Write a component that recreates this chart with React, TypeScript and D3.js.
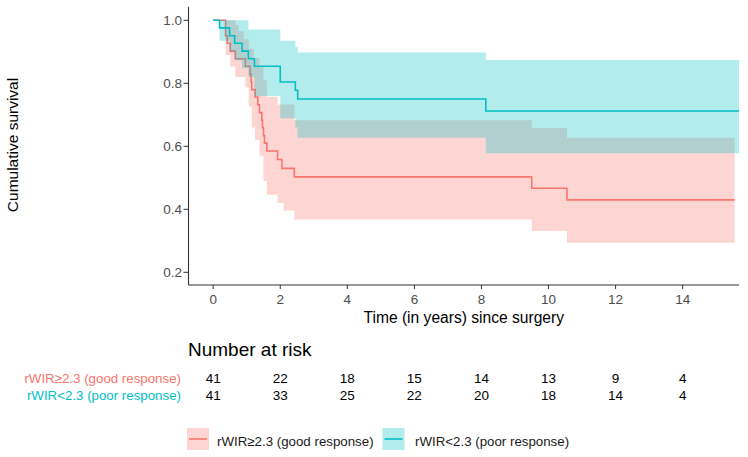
import React from "react";
import * as d3 from "d3";

// ---- data ----
const groupNames = ["rWIR\u22652.3 (good response)", "rWIR<2.3 (poor response)"];
const groupColors = ["#F8766D", "#00BFC4"];

// good response (red)
const goodTime = [0, 0.37, 0.42, 0.51, 0.66, 0.76, 0.91, 0.96, 1.06, 1.10, 1.13, 1.15, 1.21, 1.25, 1.33, 1.38, 1.45, 1.47, 1.50, 1.53, 1.60, 1.92, 2.05, 2.10, 2.42, 9.50, 10.55, 15.55];
const goodSurv = [1.0, 0.951, 0.927, 0.902, 0.878, 0.878, 0.878, 0.854, 0.854, 0.829, 0.805, 0.780, 0.780, 0.756, 0.732, 0.707, 0.683, 0.659, 0.634, 0.610, 0.585, 0.558, 0.530, 0.530, 0.503, 0.467, 0.430, 0.430];
const goodUpper = [1.0, 1.0, 1.0, 1.0, 0.985, 0.965, 0.94, 0.94, 0.91, 0.91, 0.91, 0.91, 0.88, 0.88, 0.88, 0.85, 0.85, 0.85, 0.81, 0.81, 0.757, 0.733, 0.733, 0.733, 0.683, 0.658, 0.627, 0.627];
const goodLower = [1.0, 0.89, 0.89, 0.853, 0.82, 0.82, 0.82, 0.787, 0.726, 0.726, 0.726, 0.66, 0.66, 0.62, 0.62, 0.57, 0.57, 0.57, 0.49, 0.49, 0.446, 0.42, 0.42, 0.396, 0.368, 0.331, 0.294, 0.294];

// poor response (teal)
const poorTime = [0, 0.19, 0.49, 0.64, 0.86, 1.05, 1.23, 2.0, 2.45, 2.52, 8.13, 15.8];
const poorSurv = [1.0, 0.976, 0.951, 0.927, 0.902, 0.878, 0.854, 0.804, 0.778, 0.750, 0.712, 0.712];
const poorUpper = [1.0, 1.0, 1.0, 1.0, 1.0, 0.971, 0.971, 0.935, 0.915, 0.898, 0.874, 0.874];
const poorLower = [1.0, 0.935, 0.90, 0.873, 0.848, 0.82, 0.76, 0.689, 0.66, 0.627, 0.578, 0.578];

const xTicks = [0, 2, 4, 6, 8, 10, 12, 14];
const yTicks = [0.2, 0.4, 0.6, 0.8, 1.0];
const riskGood = [41, 22, 18, 15, 14, 13, 9, 4];
const riskPoor = [41, 33, 25, 22, 20, 18, 14, 4];

type Pt = { t: number; s: number; lo: number; hi: number };
const mk = (t: number[], s: number[], lo: number[], hi: number[]): Pt[] =>
  t.map((tt, i) => ({ t: tt, s: s[i], lo: lo[i], hi: hi[i] }));

export default function App() {
  const W = 748, H = 457;
  const left = 188.5, right = 739, top = 6.7, bottom = 285;
  const x = d3.scaleLinear().domain([-0.736, 15.68]).range([left, right]);
  const y = d3.scaleLinear().domain([0.2, 1.0]).range([272.3, 20.3]);

  const groups = [
    mk(goodTime, goodSurv, goodLower, goodUpper),
    mk(poorTime, poorSurv, poorLower, poorUpper),
  ];

  const area = d3
    .area<Pt>()
    .x((d) => x(d.t))
    .y0((d) => y(d.lo))
    .y1((d) => y(d.hi))
    .curve(d3.curveStepAfter);
  const line = d3
    .line<Pt>()
    .x((d) => x(d.t))
    .y((d) => y(d.s))
    .curve(d3.curveStepAfter);

  const font = "Arial, 'Liberation Sans', sans-serif";
  const tickCol = "#4D4D4D";
  const risks = [riskGood, riskPoor];
  const legendKeyX = [187, 382.5];
  const legendTextX = [217, 415];

  return (
    <svg width={W} height={H} style={{ position: "absolute", left: 0, top: 0, background: "#fff" }} fontFamily={font}>
      <defs>
        <clipPath id="panel">
          <rect x={left} y={top} width={right - left} height={bottom - top} />
        </clipPath>
      </defs>
      <g clipPath="url(#panel)">
        {groups.map((g, i) => (
          <g key={i}>
            <path d={area(g) || ""} fill={groupColors[i]} fillOpacity={0.3} stroke="none" />
            <path d={line(g) || ""} fill="none" stroke={groupColors[i]} strokeWidth={1.6} />
          </g>
        ))}
      </g>
      {/* axes */}
      <line x1={left} x2={left} y1={top} y2={bottom} stroke="#333" strokeWidth={1.1} />
      <line x1={left} x2={right} y1={bottom} y2={bottom} stroke="#333" strokeWidth={1.1} />
      {yTicks.map((v) => (
        <g key={v}>
          <line x1={left - 5} x2={left} y1={y(v)} y2={y(v)} stroke="#333" strokeWidth={1} />
          <text x={left - 6.5} y={y(v)} dy="0.36em" textAnchor="end" fontSize={13.5} fill={tickCol}>
            {v.toFixed(1)}
          </text>
        </g>
      ))}
      {xTicks.map((v) => (
        <g key={v}>
          <line x1={x(v)} x2={x(v)} y1={bottom} y2={bottom + 4} stroke="#333" strokeWidth={1} />
          <text x={x(v)} y={304.3} textAnchor="middle" fontSize={13.5} fill={tickCol}>
            {v}
          </text>
        </g>
      ))}
      <text x={(left + right) / 2} y={323} textAnchor="middle" fontSize={15.6} fill="#000">
        Time (in years) since surgery
      </text>
      <text transform={`translate(18,145) rotate(-90)`} textAnchor="middle" fontSize={15.5} fill="#000">
        Cumulative survival
      </text>

      {/* number at risk */}
      <text x={188} y={355.5} fontSize={19} fill="#000">
        Number at risk
      </text>
      {risks.map((r, gi) => (
        <g key={gi}>
          <text x={181} y={383.3 + gi * 16.7} textAnchor="end" fontSize={13.3} fill={groupColors[gi]}>
            {groupNames[gi]}
          </text>
          {r.map((n, j) => (
            <text key={j} x={x(xTicks[j])} y={383.3 + gi * 16.7} textAnchor="middle" fontSize={13.5} fill="#000">
              {n}
            </text>
          ))}
        </g>
      ))}

      {/* legend */}
      {[0, 1].map((i) => {
        const kx = legendKeyX[i];
        return (
          <g key={i}>
            <rect x={kx} y={428} width={22} height={22} fill={groupColors[i]} fillOpacity={0.3} />
            <line x1={kx + 2} x2={kx + 20} y1={439} y2={439} stroke={groupColors[i]} strokeWidth={1.6} />
            <text x={legendTextX[i]} y={445.5} fontSize={13.3} fill="#1a1a1a">
              {groupNames[i]}
            </text>
          </g>
        );
      })}
    </svg>
  );
}
